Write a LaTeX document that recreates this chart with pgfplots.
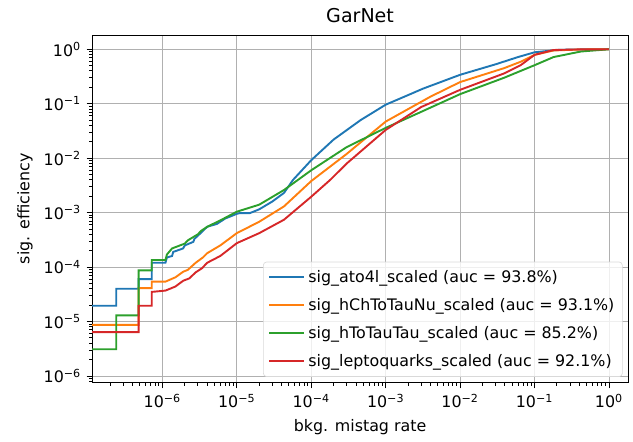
\documentclass[border=0pt]{standalone}
\usepackage{pgfplots}
\pgfplotsset{compat=1.18}
\usepackage{fontspec}
\setmainfont{DejaVu Sans}
\definecolor{tabblue}{HTML}{1F77B4}
\definecolor{taborange}{HTML}{FF7F0E}
\definecolor{tabgreen}{HTML}{2CA02C}
\definecolor{tabred}{HTML}{D62728}
\definecolor{gridgray}{HTML}{B0B0B0}
\newcommand{\logtick}{10\textsuperscript{\pgfmathparse{int(round(\tick))}\ifnum\pgfmathresult<0 −\number-\pgfmathresult\else\pgfmathresult\fi}}
\begin{document}
\begin{tikzpicture}
\begin{loglogaxis}[
  name=ax,
  scale only axis,
  width=337.7pt, height=219.2pt,
  log basis x=10, log basis y=10,
  xmin=1.14e-7, xmax=1.80,
  ymin=7.5e-7, ymax=1.83,
  xticklabel={\logtick}, yticklabel={\logtick},
  xtick pos=bottom, ytick pos=left,
  tick align=outside,
  major tick length=3.5pt, minor tick length=2pt,
  every tick/.style={black, line width=0.6pt},
  grid=major,
  major grid style={gridgray, line width=0.6pt},
  axis line style={line width=0.6pt},
  title={GarNet},
  title style={font=\fontsize{12}{14}\selectfont, yshift=-2pt},
  xlabel={bkg. mistag rate},
  ylabel={sig. efficiency},
  ticklabel style={font=\fontsize{10}{12}\selectfont},
  label style={font=\fontsize{10}{12}\selectfont},
  legend style={at={(0.99,0.017)}, anchor=south east, draw=gray!30, rounded corners=2pt,
    fill=white, fill opacity=0.8, text opacity=1, font=\fontsize{10}{12}\selectfont,
    row sep=4.6pt, inner sep=3pt},
  legend cell align=left,
  legend image code/.code={\draw[#1, line width=1.2pt] (0cm,0cm) -- (0.78cm,0cm);},
  every axis plot/.append style={line width=1.2pt},
]
\addplot[tabblue] coordinates {
(1e-7,1.95e-5) (2.4e-7,1.95e-5) (2.4e-7,4e-5) (4.8e-7,4e-5) (4.8e-7,6e-5) (7.2e-7,6e-5)
(7.2e-7,1.2e-4) (1.1e-6,1.2e-4) (1.15e-6,1.5e-4) (1.35e-6,1.6e-4) (1.4e-6,1.9e-4) (1.9e-6,2.2e-4)
(2e-6,2.5e-4) (2.6e-6,2.9e-4) (2.7e-6,3.3e-4) (3.2e-6,4.1e-4) (4e-6,5.5e-4) (5.4e-6,6.2e-4) (7e-6,7.8e-4) (1e-5,9.5e-4)
(1.1e-5,9.8e-4) (1.5e-5,9.8e-4) (2e-5,1.15e-3) (3e-5,1.6e-3) (4.3e-5,2.3e-3) (5.7e-5,4e-3) (7.5e-5,6e-3)
(1e-4,9.2e-3) (2e-4,2.2e-2) (4.6e-4,0.05) (1e-3,0.096) (3.2e-3,0.19) (1e-2,0.34)
(3e-2,0.53) (6e-2,0.72) (0.1,0.88) (0.2,0.97) (0.3,0.99) (1,1)};
\addlegendentry{sig\_ato4l\_scaled (auc = 93.8\%)}
\addplot[taborange] coordinates {
(1e-7,8.7e-6) (4.8e-7,8.7e-6) (4.8e-7,4.1e-5) (7.2e-7,4.1e-5) (7.2e-7,5.4e-5) (1.1e-6,5.4e-5)
(1.5e-6,6.5e-5) (1.9e-6,8.2e-5) (2.2e-6,8.9e-5) (2.8e-6,1.2e-4) (3.5e-6,1.5e-4) (4e-6,1.8e-4) (6e-6,2.5e-4) (1e-5,4.2e-4) (2e-5,6.8e-4)
(4.3e-5,1.3e-3) (1e-4,3.8e-3) (3e-4,0.012) (1e-3,0.047) (4e-3,0.135) (1e-2,0.25)
(3.9e-2,0.45) (6.5e-2,0.59) (0.1,0.79) (0.18,0.95) (0.4,0.99) (1,1)};
\addlegendentry{sig\_hChToTauNu\_scaled (auc = 93.1\%)}
\addplot[tabgreen] coordinates {
(1e-7,3.1e-6) (2.4e-7,3.1e-6) (2.4e-7,1.3e-5) (4.8e-7,1.3e-5) (4.8e-7,8.7e-5) (7.2e-7,8.7e-5)
(7.2e-7,1.35e-4) (1.1e-6,1.35e-4) (1.15e-6,1.7e-4) (1.35e-6,2.2e-4) (2e-6,2.7e-4) (2.2e-6,3.1e-4) (3e-6,4e-4) (3.3e-6,4.6e-4) (4e-6,5.5e-4)
(6e-6,7.2e-4) (1e-5,1.04e-3) (2e-5,1.4e-3) (4.3e-5,2.6e-3) (1e-4,6e-3) (3e-4,0.016)
(1e-3,0.036) (3e-3,0.071) (1e-2,0.15) (3.9e-2,0.3) (0.1,0.51) (0.18,0.72) (0.42,0.91) (1,1)};
\addlegendentry{sig\_hToTauTau\_scaled (auc = 85.2\%)}
\addplot[tabred] coordinates {
(1e-7,6.4e-6) (4.8e-7,6.4e-6) (4.8e-7,1.95e-5) (7.2e-7,1.95e-5) (7.2e-7,3.5e-5) (1.1e-6,3.7e-5)
(1.5e-6,4.4e-5) (1.9e-6,5.6e-5) (2.3e-6,6.2e-5) (2.8e-6,8e-5) (3.4e-6,9.5e-5) (4e-6,1.2e-4) (6e-6,1.6e-4) (1e-5,2.75e-4) (2e-5,4.2e-4)
(4.3e-5,7.4e-4) (1e-4,1.96e-3) (1.8e-4,4e-3) (3e-4,8e-3) (1e-3,0.033) (3e-3,0.087)
(1e-2,0.18) (3.9e-2,0.36) (6.5e-2,0.51) (0.1,0.79) (0.18,0.97) (0.4,0.995) (1,1)};
\addlegendentry{sig\_leptoquarks\_scaled (auc = 92.1\%)}
\end{loglogaxis}
\pgfresetboundingbox
\path ([xshift=-58.1pt,yshift=-36.7pt]ax.south west) rectangle ([xshift=3.15pt,yshift=22.05pt]ax.north east);
\end{tikzpicture}
\end{document}
